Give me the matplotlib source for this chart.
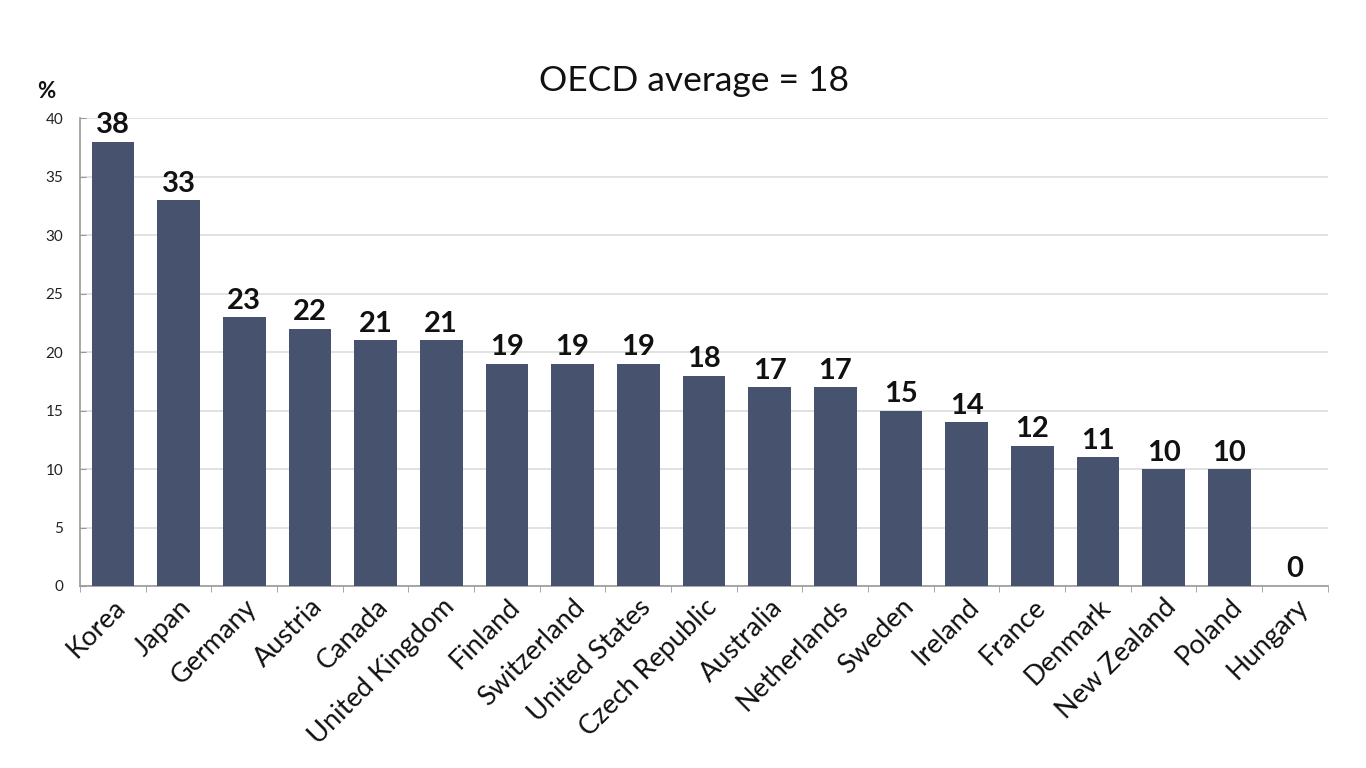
import numpy as np
import matplotlib.pyplot as plt

countries = ["Korea", "Japan", "Germany", "Austria", "Canada", "United Kingdom",
             "Finland", "Switzerland", "United States", "Czech Republic", "Australia",
             "Netherlands", "Sweden", "Ireland", "France", "Denmark", "New Zealand",
             "Poland", "Hungary"]
values = [38, 33, 23, 22, 21, 21, 19, 19, 19, 18, 17, 17, 15, 14, 12, 11, 10, 10, 0]
y_ticks = [0, 5, 10, 15, 20, 25, 30, 35, 40]
title = "OECD average = 18"

plt.rcParams["font.family"] = ["Lato", "DejaVu Sans"]

fig = plt.figure(figsize=(13.66, 7.68), dpi=100)
ax = fig.add_axes([0.0586, 0.237, 0.9134, 0.609])

x = np.arange(len(countries))
bars = ax.bar(x, values, width=0.65, color="#46526e", zorder=3)

# value labels above bars
for xi, v in zip(x, values):
    ax.text(xi, v + 0.3, str(v), ha="center", va="bottom", fontsize=21,
            fontweight="bold", color="#111111", zorder=4)

ax.set_xlim(-0.5, len(countries) - 0.5)
ax.set_ylim(0, 40)
ax.set_yticks(y_ticks)
ax.tick_params(axis="y", labelsize=11, colors="#222222", length=4, direction="in",
               color="#999999", pad=12)
ax.yaxis.grid(True, color="#dddddd", linewidth=1.2, zorder=0)

ax.set_xticks(x)
ax.set_xticklabels(countries, rotation=45, ha="right", rotation_mode="anchor",
                   fontsize=19.5, color="#111111")
ax.tick_params(axis="x", length=0, pad=6)
ax.set_xticks(np.arange(-0.5, len(countries), 1.0), minor=True)
ax.tick_params(axis="x", which="minor", length=4, color="#999999", direction="out")

for side in ["top", "right"]:
    ax.spines[side].set_visible(False)
for side in ["left", "bottom"]:
    ax.spines[side].set_color("#999999")
    ax.spines[side].set_linewidth(1.2)

fig.text(0.034, 0.873, "%", fontsize=16, fontweight="bold", color="#111111",
         ha="center")
fig.text(0.508, 0.882, title, fontsize=25.5, color="#111111", ha="center")

fig.savefig("out.png", dpi=100)
